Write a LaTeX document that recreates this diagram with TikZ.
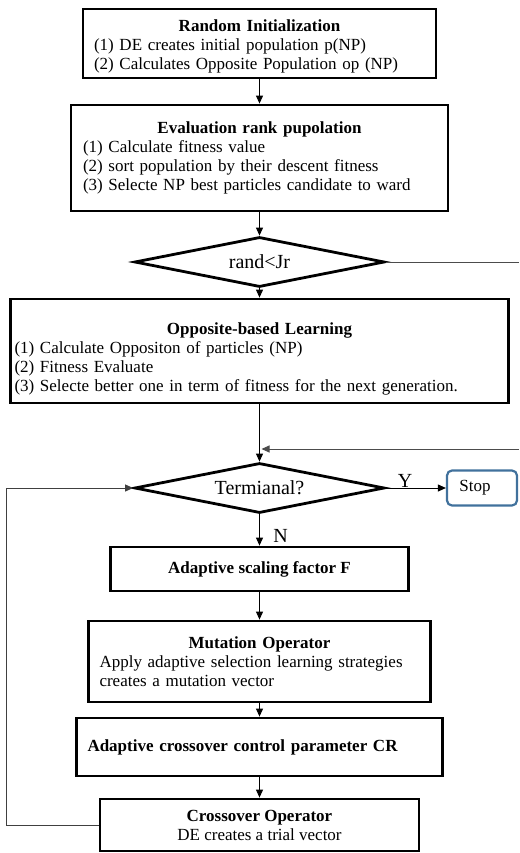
\documentclass[tikz,border=0pt]{standalone}
\usepackage{fontspec}
\setmainfont{Liberation Serif}
\usetikzlibrary{shapes.geometric,arrows.meta}
\definecolor{stopblue}{RGB}{65,113,156}
\begin{document}
\begin{tikzpicture}[x=1pt,y=-1pt,
  every node/.style={font=\fontsize{17}{19}\selectfont},
  bx/.style={draw, line width=2.8pt, rectangle, inner ysep=2pt},
  arr/.style={-{Triangle[length=8pt,width=7pt]}, line width=1pt},
  ln/.style={line width=1pt, draw=black!70},
  dm/.style={diamond, draw, line width=2.8pt, aspect=5, minimum width=250pt, minimum height=50pt, inner sep=0pt, font=\fontsize{20}{22}\selectfont},
  lab/.style={anchor=base, inner sep=0pt, font=\fontsize{20}{22}\selectfont}]
\useasboundingbox (0,0) rectangle (519,853);

\node[bx, minimum width=353pt, minimum height=69pt, inner xsep=11pt, text width=331pt, align=left] (b1) at (259.5,43.5)
  {\makebox[\linewidth]{\rule{0pt}{17pt}\textbf{Random Initialization}}\\(1) DE creates initial population p(NP)\\(2) Calculates Opposite Population op (NP)};

\node[bx, minimum width=377pt, minimum height=106pt, inner xsep=12pt, text width=353pt, align=left] (b2) at (259.5,158)
  {\makebox[\linewidth]{\textbf{Evaluation rank pupolation}}\\(1) Calculate fitness value\\(2) sort population by their descent fitness\\(3) Selecte NP best particles candidate to ward};

\node[dm] (d1) at (259.5,262) {rand<Jr};

\node[bx, minimum width=498pt, minimum height=104pt, inner xsep=4pt, text width=490pt, align=left] (b3) at (259.5,351)
  {\makebox[\linewidth]{\rule{0pt}{28pt}\textbf{Opposite-based Learning}}\\(1) Calculate Oppositon of particles (NP)\\(2) Fitness Evaluate\\(3) Selecte better one in term of fitness for the next generation.};

\node[dm] (d2) at (259.5,488) {Termianal?};

\node[draw=stopblue, line width=2.2pt, rounded corners=5pt, minimum width=70pt, minimum height=35pt, inner sep=0pt] (stop) at (482,488) {Stop\hspace*{14pt}};

\node[bx, minimum width=298pt, minimum height=44pt, align=center] (b4) at (259.5,569)
  {\textbf{Adaptive scaling factor F}};

\node[bx, minimum width=342pt, minimum height=81pt, inner xsep=11pt, text width=320pt, align=left] (b5) at (259.5,661.5)
  {\makebox[\linewidth]{\textbf{Mutation Operator}}\\Apply adaptive selection learning strategies\\creates a mutation vector};

\node[bx, minimum width=366pt, minimum height=58pt, inner xsep=11pt, text width=344pt, align=left] (b6) at (259.5,747)
  {\textbf{Adaptive crossover control parameter CR}};

\node[bx, minimum width=319pt, minimum height=52pt, align=center] (b7) at (259.5,825)
  {\textbf{Crossover Operator}\\DE creates a trial vector};

\node[lab] (ylab) at (405,487) {Y};
\node[lab] (nlab) at (280.5,542) {N};

\coordinate (r1) at (519,262);
\coordinate (r2) at (519,449);
\coordinate (lp) at (6,488);

\draw[arr] (b1.south) -- (b2.north);
\draw[arr] (b2.south) -- (d1.north);
\draw[arr] (d1.south) -- (b3.north);
\draw[ln] (d1.east) -- (r1);
\draw[arr] (b3.south) -- (d2.north);
\draw[arr, draw=black!70] (r2) -- ([xshift=2pt]b3.south |- r2);
\draw[arr] (d2.east) -- (stop.west);
\draw[arr] (d2.south) -- (b4.north);
\draw[arr] (b4.south) -- (b5.north);
\draw[arr] (b5.south) -- (b6.north);
\draw[arr] (b6.south) -- (b7.north);
\draw[arr, draw=black!75] (b7.west) -| (lp) -- (d2.west);
\end{tikzpicture}
\end{document}
